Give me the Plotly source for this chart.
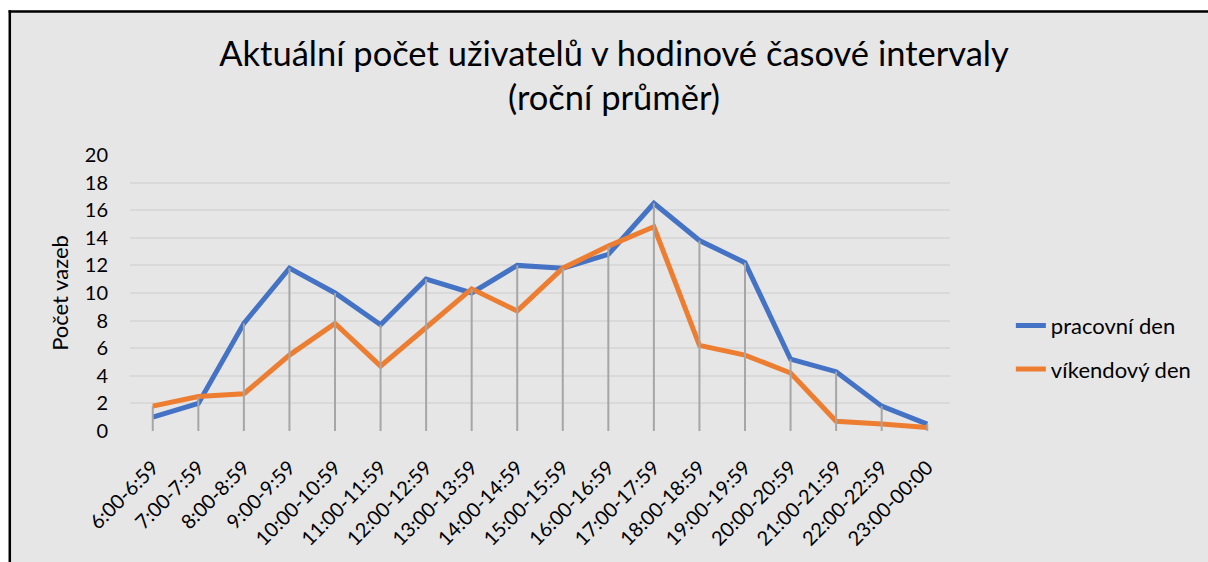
import plotly.graph_objects as go

categories = ["6:00-6:59", "7:00-7:59", "8:00-8:59", "9:00-9:59", "10:00-10:59",
              "11:00-11:59", "12:00-12:59", "13:00-13:59", "14:00-14:59",
              "15:00-15:59", "16:00-16:59", "17:00-17:59", "18:00-18:59",
              "19:00-19:59", "20:00-20:59", "21:00-21:59", "22:00-22:59",
              "23:00-00:00"]
pracovni = [1.0, 2.0, 7.8, 11.8, 10.0, 7.7, 11.0, 10.0, 12.0, 11.8, 12.8, 16.5,
            13.8, 12.2, 5.2, 4.3, 1.8, 0.5]
vikend = [1.8, 2.5, 2.7, 5.5, 7.8, 4.7, 7.5, 10.3, 8.7, 11.8, 13.4, 14.8,
          6.2, 5.5, 4.2, 0.7, 0.5, 0.25]

W, H = 1208, 562
L, R, T, B = 130, 256, 155, 129
pw, ph = W - L - R, H - T - B
BG = "#E7E6E6"

def px(x):
    return (x - L) / pw

def py(y):
    return (H - B - y) / ph

FONT = "Lato"

fig = go.Figure()
fig.add_trace(go.Scatter(x=categories, y=pracovni, mode="lines", name="pracovní den",
                         line=dict(color="#4472C4", width=5), legendgroup="a"))
fig.add_trace(go.Scatter(x=categories, y=vikend, mode="lines", name="víkendový den",
                         line=dict(color="#ED7D31", width=5), legendgroup="b"))

# drop lines
dx, dy = [], []
for c, a, b in zip(categories, pracovni, vikend):
    dx += [c, c, None]
    dy += [0, max(a, b), None]
fig.add_trace(go.Scatter(x=dx, y=dy, mode="lines", showlegend=False, hoverinfo="skip",
                         line=dict(color="#A6A6A6", width=2)))

# white margin strips outside the chart frame, and the frame's top/left edges
fig.add_shape(type="rect", xref="paper", yref="paper",
              x0=px(-5), y0=py(9.3), x1=px(W + 5), y1=py(-5),
              fillcolor="white", line=dict(width=0), layer="below")
fig.add_shape(type="rect", xref="paper", yref="paper",
              x0=px(-5), y0=py(H + 5), x1=px(8.3), y1=py(-5),
              fillcolor="white", line=dict(width=0), layer="below")
fig.add_shape(type="line", xref="paper", yref="paper",
              x0=px(8.3), y0=py(10.5), x1=px(W + 5), y1=py(10.5),
              line=dict(color="black", width=2.5), layer="below")
fig.add_shape(type="line", xref="paper", yref="paper",
              x0=px(9.5), y0=py(9.3), x1=px(9.5), y1=py(H + 5),
              line=dict(color="black", width=2.5), layer="below")

fig.update_layout(
    width=W, height=H,
    margin=dict(l=L, r=R, t=T, b=B),
    paper_bgcolor=BG,
    plot_bgcolor="rgba(0,0,0,0)",
    font=dict(family=FONT, color="black"),
    title=dict(text="Aktuální počet uživatelů v hodinové časové intervaly<br>(roční průměr)",
               x=614 / W, xanchor="center", y=1 - 65.5 / H, yanchor="middle",
               font=dict(size=34.5, family=FONT, color="black")),
    showlegend=True,
    legend=dict(x=px(1013), y=py(349), xanchor="left", yanchor="middle",
                bgcolor="rgba(0,0,0,0)", font=dict(size=22, family=FONT),
                tracegroupgap=12),
    xaxis=dict(type="category", range=[-0.5, 17.5], showgrid=False, showline=False,
               zeroline=False, tickangle=-45, tickfont=dict(size=20, family=FONT),
               ticks="", ticklabelstandoff=20),
    yaxis=dict(range=[0, 20], dtick=2, showgrid=True, gridcolor="#D9D9D9", gridwidth=2,
               zeroline=False, showline=False, tickfont=dict(size=20, family=FONT),
               ticklabelstandoff=21,
               title=dict(text="Počet vazeb", font=dict(size=22, family=FONT), standoff=10)),
)

fig.write_html(
    "out.html", config={"displayModeBar": False},
    post_script=("document.body.style.margin='0';"
                 "document.body.style.overflow='hidden';"
                 "document.documentElement.style.overflow='hidden';"
                 "document.body.style.background='" + BG + "';"))
